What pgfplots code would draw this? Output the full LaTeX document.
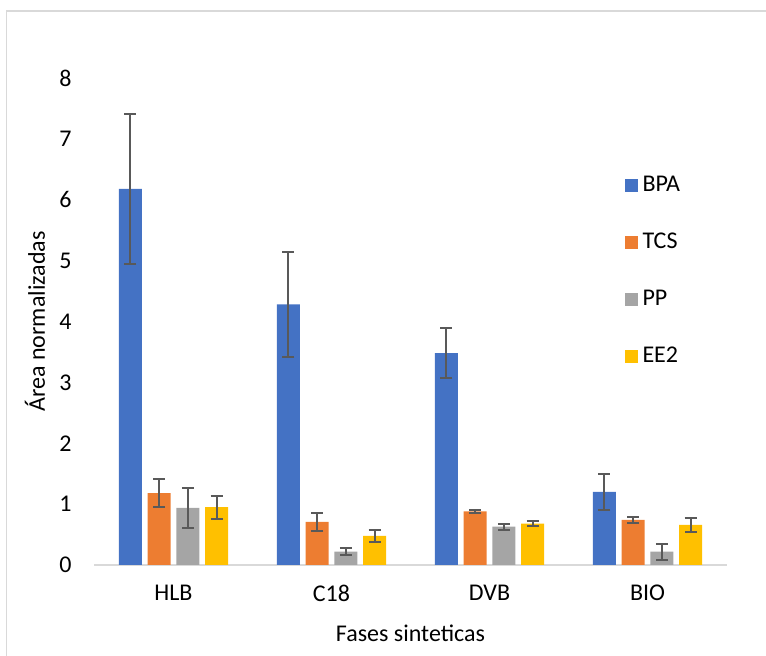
\documentclass[border=0pt]{standalone}
\usepackage{pgfplots}
\pgfplotsset{compat=1.18}
\usepackage{pgfplotstable}
\usepackage{fontspec}
\setmainfont{Carlito}
\definecolor{cBPA}{HTML}{4472C4}
\definecolor{cTCS}{HTML}{ED7D31}
\definecolor{cPP}{HTML}{A5A5A5}
\definecolor{cEE}{HTML}{FFC000}
\definecolor{cErr}{HTML}{595959}
\definecolor{cLine}{HTML}{D9D9D9}

\pgfplotstableread{
x y e
0 6.18 1.23
1 4.28 0.86
2 3.48 0.41
3 1.20 0.30
}\tBPA
\pgfplotstableread{
x y e
0 1.18 0.23
1 0.71 0.15
2 0.88 0.03
3 0.74 0.05
}\tTCS
\pgfplotstableread{
x y e
0 0.94 0.33
1 0.22 0.06
2 0.63 0.05
3 0.22 0.13
}\tPP
\pgfplotstableread{
x y e
0 0.95 0.19
1 0.48 0.10
2 0.68 0.04
3 0.66 0.11
}\tEE

\pgfplotsset{
  sq/.style={legend image code/.code={\fill[##1,draw=none] (0pt,-3.25pt) rectangle (6.5pt,3.25pt);}},
  eb/.style={
    error bars/y dir=both, error bars/y explicit,
    error bars/error bar style={line width=1pt, draw=cErr},
    error bars/error mark options={rotate=90, mark size=3pt, line width=1pt, draw=cErr}},
}

\begin{document}
\fontsize{12}{14.4}\selectfont
\begin{tikzpicture}[x=1pt,y=1pt,font=\fontsize{12}{14.4}\selectfont]
\useasboundingbox (0,0) rectangle (383,328);
\draw[cLine, line width=0.75pt] (3.25,-5) -- (3.25,322.5) -- (390,322.5);
\begin{axis}[
  at={(47.25pt,45.5pt)}, anchor=south west,
  scale only axis, width=316pt, height=243.5pt,
  xmin=-0.5, xmax=3.5, ymin=0, ymax=8,
  xtick={0,1,2,3}, xticklabels={HLB,C18,DVB,BIO},
  ytick={0,1,...,8},
  major tick length=0pt,
  axis lines*=left,
  y axis line style={draw=none},
  x axis line style={draw=cLine, line width=0.9pt, -},
  /pgf/number format/assume math mode=true,
  yticklabel style={xshift=-7.25pt},
  xticklabel style={yshift=-5.75pt},
  xlabel={Fases sinteticas},
  ylabel={Área normalizadas},
  xlabel style={at={(rel axis cs:0.5,0)}, anchor=center, yshift=-34pt},
  ylabel style={at={(rel axis cs:0,0.5)}, anchor=center, rotate=0, yshift=29.75pt},
  ybar, bar width=11.5pt, ybar=2.85pt,
  legend style={at={(rel axis cs:0.838,0.80)}, anchor=north west, draw=none, fill=none,
    inner sep=0pt, row sep=19pt, legend cell align=left,
    nodes={inner xsep=2.5pt, inner ysep=0pt}},
]
\addplot[fill=cBPA, draw=none, sq, eb] table[x=x, y=y, y error=e] {\tBPA};
\addplot[fill=cTCS, draw=none, sq, eb] table[x=x, y=y, y error=e] {\tTCS};
\addplot[fill=cPP, draw=none, sq, eb] table[x=x, y=y, y error=e] {\tPP};
\addplot[fill=cEE, draw=none, sq, eb] table[x=x, y=y, y error=e] {\tEE};
\legend{BPA,TCS,PP,EE2}
\end{axis}
\end{tikzpicture}
\end{document}
